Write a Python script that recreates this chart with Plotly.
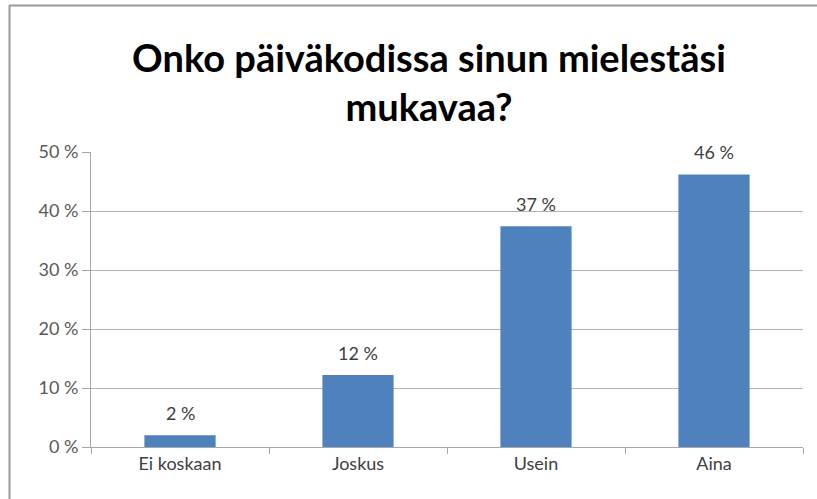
import plotly.graph_objects as go

categories = ["Ei koskaan", "Joskus", "Usein", "Aina"]
values = [0.02, 0.122, 0.374, 0.462]
labels = ["2 %", "12 %", "37 %", "46 %"]
ytick_vals = [0, 0.1, 0.2, 0.3, 0.4, 0.5]
ytick_text = ["0 %", "10 %", "20 %", "30 %", "40 %", "50 %"]
title = "<b>Onko päiväkodissa sinun mielestäsi<br>mukavaa?</b>"

W, H = 817, 499
L, R, T, B = 91, 14, 152, 52
pw, ph = W - L - R, H - T - B
FONT = "Lato, Open Sans, sans-serif"

fig = go.Figure(go.Bar(
    x=categories, y=values,
    marker=dict(color="#4f81bd", line=dict(width=0)),
    cliponaxis=False,
))

for c, v, t in zip(categories, values, labels):
    fig.add_annotation(x=c, y=v, text=t, showarrow=False, yanchor="bottom",
                       yshift=9, font=dict(family=FONT, size=18, color="#404040"))

def px_x(p):
    return (p - L) / pw

def px_y(p):
    return (H - B - p) / ph

fig.update_layout(
    width=W, height=H,
    margin=dict(l=L, r=R, t=T, b=B),
    paper_bgcolor="white", plot_bgcolor="white",
    bargap=0.6,
    showlegend=False,
    title=dict(text=title, x=429 / W, xanchor="center", xref="container",
               y=1 - 72 / H, yanchor="top", yref="container",
               font=dict(family=FONT, size=38, color="#000000")),
    xaxis=dict(
        showline=True, linecolor="#a6a6a6", linewidth=1,
        ticks="outside", tickson="boundaries", ticklen=6, tickcolor="#a6a6a6",
        tickfont=dict(family=FONT, size=18, color="#404040"),
        showgrid=False,
    ),
    yaxis=dict(
        range=[0, 0.5], tickvals=ytick_vals, ticktext=ytick_text,
        showline=True, linecolor="#a6a6a6", linewidth=1,
        ticks="outside", ticklen=8, tickcolor="#a6a6a6",
        showgrid=True, gridcolor="#b3b3b3", gridwidth=1,
        tickfont=dict(family=FONT, size=18, color="#595959"),
        zeroline=False,
    ),
    shapes=[
        dict(type="line", xref="paper", yref="paper",
             x0=px_x(9), x1=px_x(817), y0=px_y(5.5), y1=px_y(5.5),
             line=dict(color="#9a9a9a", width=2), layer="below"),
        dict(type="line", xref="paper", yref="paper",
             x0=px_x(9.5), x1=px_x(9.5), y0=px_y(5), y1=px_y(499),
             line=dict(color="#9a9a9a", width=2), layer="below"),
    ],
)

fig.write_html("out.html", config={"displayModeBar": False},
               post_script="document.body.style.margin='0';")
